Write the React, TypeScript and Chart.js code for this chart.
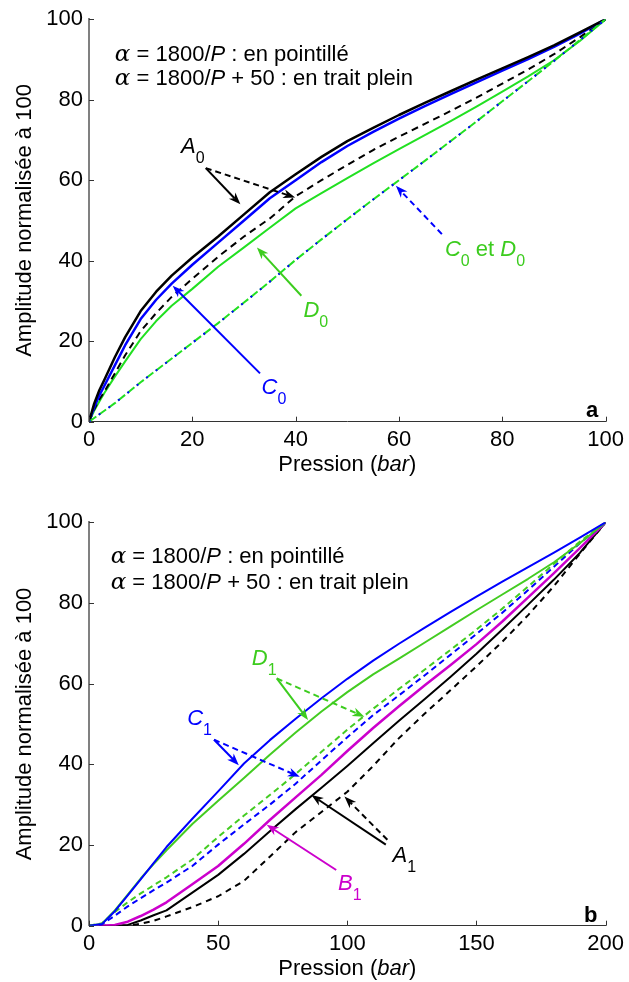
import React, { useEffect, useRef } from 'react';
import { Chart, registerables } from 'chart.js';
Chart.register(...registerables);

const FONT = '"Liberation Sans", Arial, Helvetica, sans-serif';

// ---------------- Panel a (pressure 0..100 bar) ----------------
const pressureA = [0, 1, 2, 3, 5, 7, 10, 13, 16, 20, 25, 30, 35, 40, 45, 50, 55, 60, 65, 70, 75, 80, 85, 90, 95, 100];
const A0_plein = [0, 4.5, 7.8, 10.5, 16, 21, 27.5, 32.3, 36.3, 40.8, 46, 51.5, 57, 61.5, 65.8, 69.7, 73, 76.2, 79.2, 82.1, 85, 87.8, 90.6, 93.5, 96.7, 100];
const C0_plein = [0, 3.5, 6.5, 9, 14, 19, 25.5, 30.3, 34.3, 39, 44.5, 50, 55.5, 60, 64.5, 68.5, 72, 75.3, 78.4, 81.4, 84.3, 87.2, 90.1, 93.1, 96.4, 100];
const A0_pointille = [0, 3, 5.5, 7.5, 12, 16.5, 22.5, 27, 31, 35.5, 41, 46, 50.5, 56, 60, 63.8, 67.5, 70.8, 74, 77.2, 80.5, 84, 87.5, 91.3, 95.5, 100];
const D0_plein = [0, 2.7, 5, 7.2, 11.2, 15, 20.5, 25, 28.8, 33, 38.5, 43.3, 48.2, 53, 56.8, 60.5, 64.2, 67.7, 71.2, 74.7, 78.3, 82, 85.8, 89.8, 94.6, 100];
const pressureALin = [0, 5, 10, 15, 20, 25, 30, 35, 40, 45, 50, 55, 60, 65, 70, 75, 80, 85, 90, 95, 100];
const C0_pointille = [0, 4.6, 9.8, 14.7, 19.6, 24.5, 29.6, 34.8, 40.2, 45.3, 50.3, 55.2, 60, 64.8, 69.7, 74.6, 79.6, 84.6, 89.6, 94.8, 100];
const D0_pointille = [0, 4.6, 9.8, 14.7, 19.6, 24.5, 29.6, 34.8, 40.2, 45.3, 50.3, 55.2, 60, 64.8, 69.7, 74.6, 79.6, 84.6, 89.6, 94.8, 100];
const xTicksA = [0, 20, 40, 60, 80, 100];

// ---------------- Panel b (pressure 0..200 bar) ----------------
const pressureB = [0, 5, 10, 15, 20, 25, 30, 40, 50, 60, 70, 80, 90, 100, 110, 120, 130, 140, 150, 160, 170, 180, 190, 200];
const C1_plein = [0, 0.4, 3.6, 7.5, 11.5, 15.5, 19.5, 26.5, 33.3, 40.2, 46, 51.3, 56.4, 61.2, 65.7, 69.9, 73.9, 77.8, 81.6, 85.3, 88.9, 92.5, 96.2, 100];
const D1_plein = [0, 0.5, 3.8, 7.7, 11.7, 15.3, 18.7, 25.2, 31, 36.6, 42.4, 47.9, 53.1, 57.9, 62.3, 66.2, 70.2, 74.2, 78.2, 82.1, 86, 90.1, 94.8, 100];
const D1_pointille = [0, 0.6, 3.4, 5.8, 8, 10, 12, 16.4, 22, 27.3, 32.4, 37.6, 43.1, 48.6, 53.8, 58.7, 63.5, 68.4, 73.4, 78.6, 84.1, 89.7, 95.2, 100];
const C1_pointille = [0, 0.3, 2.5, 4.8, 6.8, 8.8, 10.7, 14.8, 20.1, 25.1, 30, 35.2, 41, 46.7, 52.2, 57.1, 62.1, 67.2, 72.3, 77.6, 83.2, 89, 94.8, 100];
const B1_plein = [0, 0, 0.2, 1, 2.4, 4, 5.8, 10.3, 14.8, 20.3, 26.2, 31.8, 37.4, 43.3, 49, 54.4, 59.6, 64.6, 69.8, 75.4, 81.4, 87.4, 93.6, 100];
const A1_plein = [0, 0, 0, 0.2, 1.3, 2.6, 3.8, 8.2, 12.6, 17.8, 23.4, 28.9, 34.2, 39.6, 45.2, 50.8, 56.2, 61.7, 67.4, 73.4, 79.6, 85.8, 92.4, 100];
const A1_pointille = [0, 0, 0, 0, 0.5, 1.2, 2.3, 4.6, 7.3, 11.1, 17.1, 23.2, 28.2, 33.2, 39.6, 46.5, 52.6, 58.4, 64.3, 70.4, 77, 84.2, 92.2, 100];
const xTicksB = [0, 50, 100, 150, 200];

const yTicks = [0, 20, 40, 60, 80, 100];
const yTitle = 'Amplitude normalisée à 100';

type Seg = { t: string; f?: string; sub?: boolean };
type Lab = { x: number; y: number; color: string; segs: Seg[] };
type Arr = { x0: number; y0: number; x1: number; y1: number; color: string; dash?: boolean };

const legendA: Lab[] = [
  { x: 5.0, y: 89.7, color: '#000', segs: [{ t: 'α', f: 'sym' }, { t: ' = 1800/' }, { t: 'P', f: 'i' }, { t: ' : en pointillé' }] },
  { x: 5.0, y: 83.7, color: '#000', segs: [{ t: 'α', f: 'sym' }, { t: ' = 1800/' }, { t: 'P', f: 'i' }, { t: ' + 50 : en trait plein' }] },
];
const labelsA: Lab[] = [
  { x: 17.8, y: 66.8, color: '#000', segs: [{ t: 'A', f: 'i' }, { t: '0', sub: true }] },
  { x: 33.4, y: 7.0, color: '#0000ff', segs: [{ t: 'C', f: 'i' }, { t: '0', sub: true }] },
  { x: 41.5, y: 26.0, color: '#3ccc1e', segs: [{ t: 'D', f: 'i' }, { t: '0', sub: true }] },
  { x: 68.9, y: 41.2, color: '#3ccc1e', segs: [{ t: 'C', f: 'i' }, { t: '0', sub: true }, { t: ' et ' }, { t: 'D', f: 'i' }, { t: '0', sub: true }] },
  { x: 96.2, y: 1.2, color: '#000', segs: [{ t: 'a', f: 'b' }] },
];
const arrowsA: Arr[] = [
  { x0: 22.6, y0: 63.0, x1: 29.3, y1: 54.0, color: '#000' },
  { x0: 22.6, y0: 63.0, x1: 39.9, y1: 55.7, color: '#000', dash: true },
  { x0: 33.1, y0: 12.0, x1: 16.2, y1: 33.8, color: '#0000ff' },
  { x0: 41.1, y0: 31.3, x1: 32.5, y1: 43.3, color: '#3ccc1e' },
  { x0: 68.3, y0: 46.6, x1: 59.4, y1: 58.6, color: '#0000ff', dash: true },
];

const legendB: Lab[] = [
  { x: 8.4, y: 90.0, color: '#000', segs: [{ t: 'α', f: 'sym' }, { t: ' = 1800/' }, { t: 'P', f: 'i' }, { t: ' : en pointillé' }] },
  { x: 8.4, y: 83.4, color: '#000', segs: [{ t: 'α', f: 'sym' }, { t: ' = 1800/' }, { t: 'P', f: 'i' }, { t: ' + 50 : en trait plein' }] },
];
const labelsB: Lab[] = [
  { x: 63.0, y: 64.6, color: '#3ccc1e', segs: [{ t: 'D', f: 'i' }, { t: '1', sub: true }] },
  { x: 38.0, y: 49.8, color: '#0000ff', segs: [{ t: 'C', f: 'i' }, { t: '1', sub: true }] },
  { x: 117.5, y: 15.8, color: '#000', segs: [{ t: 'A', f: 'i' }, { t: '1', sub: true }] },
  { x: 96.4, y: 8.9, color: '#cc00cc', segs: [{ t: 'B', f: 'i' }, { t: '1', sub: true }] },
  { x: 191.6, y: 0.9, color: '#000', segs: [{ t: 'b', f: 'b' }] },
];
const arrowsB: Arr[] = [
  { x0: 72.7, y0: 61.3, x1: 84.8, y1: 51.0, color: '#3ccc1e' },
  { x0: 72.7, y0: 61.3, x1: 106.6, y1: 51.8, color: '#3ccc1e', dash: true },
  { x0: 48.4, y0: 46.1, x1: 58.0, y1: 39.8, color: '#0000ff' },
  { x0: 48.4, y0: 46.1, x1: 81.6, y1: 36.9, color: '#0000ff', dash: true },
  { x0: 114.9, y0: 20.1, x1: 86.1, y1: 32.4, color: '#000' },
  { x0: 115.5, y0: 21.3, x1: 98.9, y1: 32.0, color: '#000', dash: true },
  { x0: 95.7, y0: 13.8, x1: 68.8, y1: 25.0, color: '#cc00cc' },
];

const SIZE = 22;
function segFont(s: Seg) {
  if (s.f === 'sym') return `italic ${SIZE + 1}px "DejaVu Serif", serif`;
  const style = s.f === 'i' ? 'italic ' : s.f === 'b' ? 'bold ' : '';
  const sz = s.sub ? 16 : SIZE;
  return `${style}${sz}px ${FONT}`;
}
function drawRich(ctx: CanvasRenderingContext2D, segs: Seg[], x: number, y: number, color: string, align = 'left') {
  ctx.save();
  ctx.fillStyle = color;
  ctx.textBaseline = 'alphabetic';
  ctx.textAlign = 'left';
  let w = 0;
  for (const s of segs) { ctx.font = segFont(s); w += ctx.measureText(s.t).width; }
  let cx = align === 'center' ? x - w / 2 : x;
  for (const s of segs) {
    ctx.font = segFont(s);
    ctx.fillText(s.t, cx, y + (s.sub ? 10 : 0));
    cx += ctx.measureText(s.t).width;
  }
  ctx.restore();
}
function drawArrow(ctx: CanvasRenderingContext2D, x0: number, y0: number, x1: number, y1: number, color: string, dash?: boolean) {
  const ang = Math.atan2(y1 - y0, x1 - x0);
  const c = Math.cos(ang), s = Math.sin(ang);
  const L = 12, W = 4.5, N = 3.5;
  ctx.save();
  ctx.strokeStyle = color; ctx.fillStyle = color; ctx.lineWidth = 2;
  ctx.setLineDash(dash ? [6, 4] : []);
  ctx.beginPath();
  ctx.moveTo(x0, y0);
  ctx.lineTo(x1 - c * (L - N), y1 - s * (L - N));
  ctx.stroke();
  ctx.setLineDash([]);
  ctx.beginPath();
  ctx.moveTo(x1, y1);
  ctx.lineTo(x1 - c * L - s * W, y1 - s * L + c * W);
  ctx.lineTo(x1 - c * (L - N), y1 - s * (L - N));
  ctx.lineTo(x1 - c * L + s * W, y1 - s * L - c * W);
  ctx.closePath();
  ctx.fill();
  ctx.restore();
}

type Series = { xs: number[]; ys: number[]; color: string; width: number; dash?: number[] };
type Panel = { series: Series[]; xMax: number; xTicks: number[]; padTop: number; xHeight: number; legend: Lab[]; labels: Lab[]; arrows: Arr[] };

const GREEN_A = '#22e022';
const GREEN_B = '#44cc22';

const panelA: Panel = {
  xMax: 100, xTicks: xTicksA, padTop: 17.5, xHeight: 69.3,
  legend: legendA, labels: labelsA, arrows: arrowsA,
  series: [
    { xs: pressureALin, ys: C0_pointille, color: '#0000ff', width: 2, dash: [2, 10] },
    { xs: pressureALin, ys: D0_pointille, color: GREEN_A, width: 2, dash: [9, 3] },
    { xs: pressureA, ys: A0_plein, color: '#000', width: 2.5 },
    { xs: pressureA, ys: C0_plein, color: '#0000ff', width: 2.5 },
    { xs: pressureA, ys: A0_pointille, color: '#000', width: 2, dash: [7, 5] },
    { xs: pressureA, ys: D0_plein, color: GREEN_A, width: 2 },
  ],
};
const panelB: Panel = {
  xMax: 200, xTicks: xTicksB, padTop: 31.3, xHeight: 56.3,
  legend: legendB, labels: labelsB, arrows: arrowsB,
  series: [
    { xs: pressureB, ys: C1_plein, color: '#0000ff', width: 2 },
    { xs: pressureB, ys: D1_plein, color: GREEN_B, width: 2 },
    { xs: pressureB, ys: D1_pointille, color: GREEN_B, width: 2, dash: [6, 4] },
    { xs: pressureB, ys: C1_pointille, color: '#0000ff', width: 2, dash: [6, 4] },
    { xs: pressureB, ys: B1_plein, color: '#cc00cc', width: 2.5 },
    { xs: pressureB, ys: A1_plein, color: '#000', width: 2 },
    { xs: pressureB, ys: A1_pointille, color: '#000', width: 2, dash: [6, 5] },
  ],
};

function makeChart(canvas: HTMLCanvasElement, p: Panel) {
  const annot = {
    id: 'annot',
    afterDraw(chart: any) {
      const { ctx, chartArea, scales } = chart;
      const xs = scales.x, ys = scales.y;
      ctx.save();
      ctx.strokeStyle = '#333';
      ctx.lineWidth = 1;
      for (const t of xs.ticks) {
        const px = Math.round(xs.getPixelForValue(t.value)) + 0.5;
        ctx.beginPath(); ctx.moveTo(px, chartArea.bottom); ctx.lineTo(px, chartArea.bottom - 5); ctx.stroke();
      }
      for (const t of ys.ticks) {
        const py = Math.round(ys.getPixelForValue(t.value)) + 0.5;
        ctx.beginPath(); ctx.moveTo(chartArea.left, py); ctx.lineTo(chartArea.left + 5, py); ctx.stroke();
      }
      ctx.restore();
      for (const a of p.arrows) {
        drawArrow(ctx, xs.getPixelForValue(a.x0), ys.getPixelForValue(a.y0), xs.getPixelForValue(a.x1), ys.getPixelForValue(a.y1), a.color, a.dash);
      }
      for (const l of [...p.legend, ...p.labels]) {
        drawRich(ctx, l.segs, xs.getPixelForValue(l.x), ys.getPixelForValue(l.y), l.color);
      }
      const cx = (chartArea.left + chartArea.right) / 2;
      drawRich(ctx, [{ t: 'Pression (' }, { t: 'bar', f: 'i' }, { t: ')' }], cx, chartArea.bottom + 49.5, '#000', 'center');
    },
  };
  return new Chart(canvas, {
    type: 'line',
    data: {
      datasets: p.series.map((s) => ({
        data: s.xs.map((x, i) => ({ x, y: s.ys[i] })),
        borderColor: s.color,
        borderWidth: s.width,
        borderDash: s.dash || [],
        pointRadius: 0,
        tension: 0,
        fill: false,
        borderJoinStyle: 'round',
      })),
    },
    options: {
      responsive: false,
      animation: false,
      devicePixelRatio: 1,
      layout: { padding: { top: p.padTop, right: 19, left: 0, bottom: 0 } },
      plugins: { legend: { display: false }, tooltip: { enabled: false }, title: { display: false } },
      scales: {
        x: {
          type: 'linear', min: 0, max: p.xMax,
          afterBuildTicks: (s: any) => { s.ticks = p.xTicks.map((v) => ({ value: v })); },
          afterFit: (s: any) => { s.height = p.xHeight; },
          ticks: { font: { family: FONT, size: SIZE }, color: '#000', padding: 5, maxRotation: 0, autoSkip: false },
          grid: { drawOnChartArea: false, drawTicks: false },
          border: { color: '#333', width: 1 },
        },
        y: {
          type: 'linear', min: 0, max: 100,
          afterBuildTicks: (s: any) => { s.ticks = yTicks.map((v) => ({ value: v })); },
          afterFit: (s: any) => { s.width = 89; },
          ticks: { font: { family: FONT, size: SIZE }, color: '#000', padding: 6, autoSkip: false },
          grid: { drawOnChartArea: false, drawTicks: false },
          border: { color: '#808080', width: 2 },
          title: { display: true, text: yTitle, font: { family: FONT, size: SIZE }, color: '#000', padding: { top: 12, bottom: 0 } },
        },
      },
    } as any,
    plugins: [annot],
  });
}

function PanelChart({ panel, top }: { panel: Panel; top: number }) {
  const ref = useRef<HTMLCanvasElement>(null);
  useEffect(() => {
    const ch = makeChart(ref.current!, panel);
    return () => ch.destroy();
  }, [panel]);
  return (
    <div style={{ position: 'absolute', left: 0, top, width: 629, height: 491 }}>
      <canvas ref={ref} width={629} height={491} style={{ display: 'block' }} />
    </div>
  );
}

export default function App() {
  return (
    <div style={{ position: 'absolute', left: 0, top: 0, width: 629, height: 982, background: '#fff' }}>
      <PanelChart panel={panelA} top={0} />
      <PanelChart panel={panelB} top={491} />
    </div>
  );
}
